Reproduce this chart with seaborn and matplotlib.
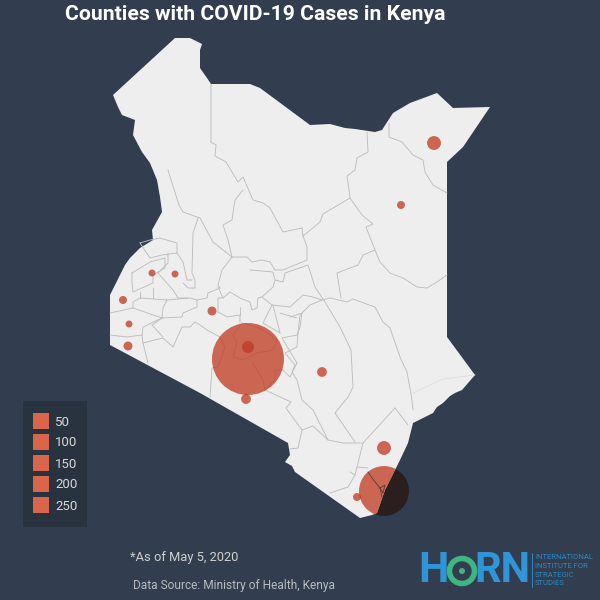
import matplotlib
matplotlib.use("Agg")
import matplotlib.pyplot as plt
import numpy as np
import seaborn as sns
from matplotlib.patches import Polygon, Rectangle, Circle

BG = "#323e4f"
sns.set_theme(style="white")
plt.rcParams["font.family"] = ["Roboto", "DejaVu Sans"]

land_x = [175,190,202,200,200,207,211,250,260,310,330,345,355,375,382,393,410,437,453,490,463,447,447,475,462,455,450,443,437,433,413,408,400,395,385,377,372,360,
          295,292,285,290,288,200,110,110,110,120,125,130,140,153,152,162,160,157,150,142,133,135,122,118,113]
land_y = [38,38,44,50,68,78,84,84,88,125,124,128,129,132,130,113,103,93,108,107,147,162,337,375,390,393,396,403,407,413,423,443,460,470,490,513,515,518,
          472,466,462,455,443,393,345,325,295,275,265,258,248,240,230,212,197,180,163,152,135,120,115,107,95]

county_lines = [
 [(211,84),(211,142),(216,145),(215,156),(226,162),(235,177),(238,182),(243,177),(253,200),(263,203),(270,208),(283,232),(302,228)],
 [(367,132),(368,152),(357,158),(355,170),(347,176),(350,197)],
 [(389,123),(389,137),(402,142),(413,155),(423,160),(425,172),(433,185),(447,193)],
 [(168,170),(172,183),(179,205),(183,212),(197,217),(200,218),(213,242),(232,257)],
 [(243,190),(235,200),(233,213),(232,220),(223,225),(228,240),(232,257)],
 [(350,198),(323,214),(320,222),(303,236),(302,228)],
 [(350,198),(362,215),(373,224),(366,227),(375,250),(380,262),(390,273),(403,278),(417,287),(427,288),(437,282),(447,275)],
 [(375,250),(363,255),(358,265),(337,273),(341,298)],
 [(303,236),(307,247),(307,260),(283,270),(275,270),(270,262),(262,260),(252,262),(247,257),(232,257)],
 [(250,270),(273,272),(275,280),(283,282),(285,273),(308,265),(315,287),(325,302),(340,327),(351,350),(353,387),(348,397),(335,413),(355,442)],
 [(232,257),(222,270),(218,285),(220,288),(208,293),(207,298),(197,300),(190,298),(167,300)],
 [(275,280),(273,287),(262,297),(272,305),(290,307),(303,295),(313,297),(322,300),(330,298),(347,302),(353,299),(375,307),(383,322),(390,328),(400,357),(407,372),(411,394),(413,410)],
 [(322,300),(310,305),(300,315),(298,333),(297,347),(285,353),(295,365),(292,372),(297,380),(302,400),(313,410),(328,440),(343,443),(363,443)],
 [(280,313),(297,318)],
 [(198,218),(193,233),(192,273),(195,280),(195,288),(188,288),(183,283)],
 [(218,287),(223,298),(230,292),(240,298),(250,302),(252,310),(257,308),(258,298),(262,297)],
 [(223,298),(218,298),(218,312),(227,317),(240,315),(240,323)],
 [(240,307),(240,315)],
 [(272,305),(263,323),(280,333)],
 [(273,305),(280,333)],
 [(290,317),(302,313),(300,327)],
 [(242,323),(233,335),(237,343),(233,357),(243,360),(257,353),(273,350),(277,340),(268,333),(257,327),(242,323)],
 [(252,363),(257,370),(263,380),(265,390),(275,380),(275,370),(283,370),(290,377),(297,363),(282,338),(297,335),(300,327)],
 [(220,337),(225,347),(218,367),(212,368),(210,397)],
 [(265,390),(291,402),(286,408),(302,430),(298,448),(290,449)],
 [(302,430),(313,426),(328,440)],
 [(220,337),(207,330),(203,327),(195,322),(190,327),(182,327),(173,347),(163,338),(143,343),(142,335),(143,327),(162,318),(133,308),(133,302),(140,298),(167,300),(163,308),(162,318),(182,317),(183,313),(197,307),(197,300)],
 [(162,318),(152,325),(163,337)],
 [(143,343),(148,363)],
 [(142,335),(127,337),(110,335)],
 [(133,308),(110,313)],
 [(140,243),(150,258),(162,255),(177,253),(177,243),(160,238),(150,240),(140,243)],
 [(132,273),(150,262),(165,258),(165,268),(153,275),(153,283),(133,292),(132,283),(132,273)],
 [(140,292),(140,298)],
 [(153,288),(153,298)],
 [(168,253),(168,263),(158,273),(173,290),(178,298),(188,298)],
 [(177,253),(183,262),(187,280),(192,280)],
 [(395,408),(363,443),(355,475),(348,487),(330,493)],
 [(350,472),(355,475)],
 [(357,467),(368,468)],
 [(395,408),(408,425)],
]
faint_lines = [[(411,394),(443,379),(475,375)]]
inner_lines = [[(368,472),(372,478),(380,488),(382,497)],[(380,488),(385,485),(383,493),(380,488)]]

places = ["Nairobi","Mombasa","Mandera","Wajir","Kisumu*","Trans Nzoia","Busia","Homa Bay","Migori","Nakuru","Kitui","Kajiado","Lamu/Kilifi","Kwale","Kiambu"]
cases_x = [248,384,434,401,152,175,123,129,128,212,322,246,384,357,248]
cases_y = [359,491,143,205,273,274,300,324,346,311,372,399,448,497,347]
cases   = [322,155,12,4,3,3,4,3,5,5,6,6,12,4,9]

legend_values = [50,100,150,200,250]
legend_y = [421,442,463,484,505]
legend_x = [41,41,41,41,41]

fig = plt.figure(figsize=(6,6), dpi=100, facecolor=BG)
ax = fig.add_axes([0,0,1,1])
ax.set_xlim(0,600); ax.set_ylim(600,0)
ax.set_facecolor(BG); ax.axis("off")

sizes = (2*36*np.sqrt(np.array(cases)/322)*0.72)**2

sns.scatterplot(x=cases_x, y=cases_y, s=sizes, color="#2b1e1f", linewidth=0, ax=ax, zorder=1, legend=False)
land = Polygon(np.column_stack([land_x, land_y]), closed=True, fc="#eeeeee", ec="none", zorder=2)
ax.add_patch(land)
for seg in county_lines:
    xs, ys = zip(*seg)
    ax.plot(xs, ys, color="#bdbdbd", lw=0.65, zorder=3, solid_joinstyle="round")
for seg in faint_lines:
    xs, ys = zip(*seg)
    ax.plot(xs, ys, color="#dddddd", lw=0.6, zorder=3)

n0 = len(ax.collections)
sns.scatterplot(x=cases_x, y=cases_y, s=sizes, color="#c0391f", alpha=0.75, linewidth=0, ax=ax, zorder=4, legend=False)
ax.collections[n0].set_clip_path(land)
for seg in inner_lines:
    xs, ys = zip(*seg)
    ax.plot(xs, ys, color="#5a3a33", lw=0.6, zorder=5)

ax.add_patch(Rectangle((23,401), 64, 126, fc="#29333f", ec="none", zorder=6))
sns.scatterplot(x=legend_x, y=legend_y, marker="s", s=(16.5*0.72)**2, color="#d9654b", linewidth=0, ax=ax, zorder=7, legend=False)
for v, y in zip(legend_values, legend_y):
    ax.text(55, y+1, str(v), color="#d8d8d8", fontsize=9.5, va="center", ha="left", zorder=7)

ax.text(255.5, 14, "Counties with COVID-19 Cases in Kenya", color="white", fontsize=15.2, fontweight="bold", ha="center", va="center")
ax.text(130, 557, "*As of May 5, 2020", color="#cfcfcf", fontsize=9.3, ha="left", va="center")
ax.text(133, 586, "Data Source: Ministry of Health, Kenya", color="#b8bcc2", fontsize=8.6, ha="left", va="center")

BLUE = "#2f95d6"; GREEN = "#3fb57f"
ax.text(433, 571, "H", color=BLUE, fontsize=31, fontweight="bold", ha="center", va="center", family="Roboto")
ax.text(502, 571, "RN", color=BLUE, fontsize=30, fontweight="bold", ha="center", va="center", family="Roboto")
ax.add_patch(Circle((462,571), 12.5, fc="none", ec=GREEN, lw=4))
ax.add_patch(Circle((462,571), 3, fc=GREEN, ec="none"))
ax.plot([532,532],[553,587], color=BLUE, lw=0.6)
for t, y in zip(["INTERNATIONAL","INSTITUTE FOR","STRATEGIC","STUDIES"], [557,566,575,583]):
    ax.text(535, y, t, color="#2f86c0", fontsize=5.5, ha="left", va="center")

fig.savefig("out.png", dpi=100, facecolor=BG)
